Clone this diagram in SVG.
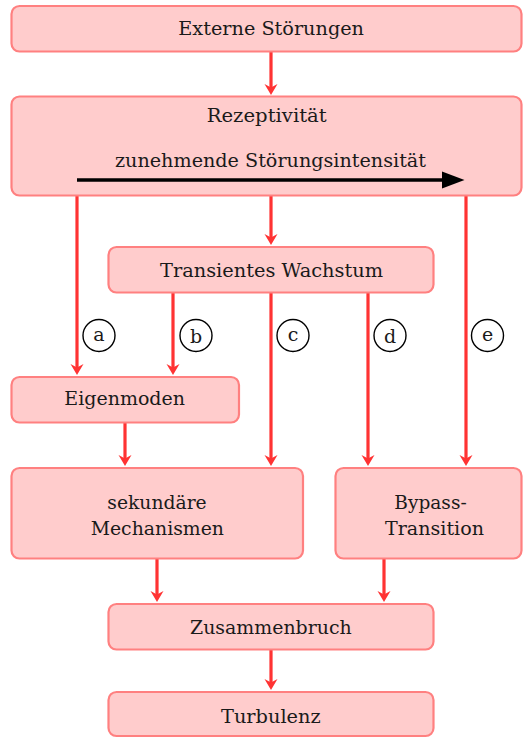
<svg xmlns="http://www.w3.org/2000/svg" width="523" height="738" viewBox="0 0 523 738">
<defs>
<style>
.box{fill:#ffcccc;stroke:#ff8080;stroke-width:2.2}
.t{font-family:'DejaVu Serif',serif;font-size:19px;fill:#1a1a1a}
.conn{stroke:#ff3333;stroke-width:3.2;fill:none}
.lbl{fill:none;stroke:#000;stroke-width:1.4}
</style>
<marker id="ah" markerUnits="userSpaceOnUse" markerWidth="20" markerHeight="20" viewBox="-10 -10 20 20" refX="0" refY="0" orient="auto" overflow="visible">
<path d="M5,0 L-6,-6.5 L-2.5,0 L-6,6.5 Z" fill="#ff3333"/>
</marker>
</defs>
<rect width="523" height="738" fill="#fff"/>
<g id="connectors">
<line class="conn" x1="271" y1="52" x2="271" y2="90" marker-end="url(#ah)"/>
<line class="conn" x1="271" y1="196" x2="271" y2="240" marker-end="url(#ah)"/>
<line class="conn" x1="77" y1="196" x2="77" y2="370" marker-end="url(#ah)"/>
<line class="conn" x1="173" y1="293" x2="173" y2="370" marker-end="url(#ah)"/>
<line class="conn" x1="271" y1="293" x2="271" y2="461" marker-end="url(#ah)"/>
<line class="conn" x1="368" y1="293" x2="368" y2="461" marker-end="url(#ah)"/>
<line class="conn" x1="466" y1="196" x2="466" y2="461" marker-end="url(#ah)"/>
<line class="conn" x1="125" y1="423" x2="125" y2="461" marker-end="url(#ah)"/>
<line class="conn" x1="157" y1="559" x2="157" y2="597" marker-end="url(#ah)"/>
<line class="conn" x1="384" y1="559" x2="384" y2="597" marker-end="url(#ah)"/>
<line class="conn" x1="271" y1="650" x2="271" y2="685" marker-end="url(#ah)"/>
</g>
<g id="externe">
<rect class="box" x="11.5" y="6" width="510" height="45.5" rx="8"/>
<text class="t" x="178.3" y="35" textLength="185.7" lengthAdjust="spacingAndGlyphs">Externe Störungen</text>
</g>
<g id="rezeptivitaet">
<rect class="box" x="11.5" y="96.5" width="510" height="99" rx="8"/>
<text class="t" x="206.7" y="122" textLength="120" lengthAdjust="spacingAndGlyphs">Rezeptivität</text>
<text class="t" x="115" y="167" textLength="311" lengthAdjust="spacingAndGlyphs">zunehmende Störungsintensität</text>
<line x1="77" y1="180" x2="444" y2="180" stroke="#000" stroke-width="3.6"/>
<polygon points="442,171.5 464.5,180 442,188.5" fill="#000"/>
</g>
<g id="transientes">
<rect class="box" x="108.5" y="247" width="325" height="45.5" rx="8"/>
<text class="t" x="160" y="277" textLength="223" lengthAdjust="spacingAndGlyphs">Transientes Wachstum</text>
</g>
<g id="label-a"><circle class="lbl" cx="99" cy="335.5" r="16"/><text class="t" x="99" y="340.5" text-anchor="middle">a</text></g>
<g id="label-b"><circle class="lbl" cx="196" cy="335.5" r="16"/><text class="t" x="196" y="342.5" text-anchor="middle">b</text></g>
<g id="label-c"><circle class="lbl" cx="293" cy="335.5" r="16"/><text class="t" x="293" y="340.5" text-anchor="middle">c</text></g>
<g id="label-d"><circle class="lbl" cx="390" cy="335.5" r="16"/><text class="t" x="390" y="342.5" text-anchor="middle">d</text></g>
<g id="label-e"><circle class="lbl" cx="487.5" cy="335.5" r="16"/><text class="t" x="487.5" y="340.5" text-anchor="middle">e</text></g>
<g id="eigenmoden">
<rect class="box" x="11.5" y="377" width="227.5" height="45.5" rx="8"/>
<text class="t" x="64.3" y="405" textLength="120.7" lengthAdjust="spacingAndGlyphs">Eigenmoden</text>
</g>
<g id="sekundaere">
<rect class="box" x="11.5" y="468" width="291.5" height="90.5" rx="8"/>
<text class="t" x="107.3" y="508.5" textLength="99.4" lengthAdjust="spacingAndGlyphs">sekundäre</text>
<text class="t" x="90.7" y="535" textLength="133.3" lengthAdjust="spacingAndGlyphs">Mechanismen</text>
</g>
<g id="bypass">
<rect class="box" x="335.5" y="468" width="186" height="90.5" rx="8"/>
<text class="t" x="394.3" y="509" textLength="72.4" lengthAdjust="spacingAndGlyphs">Bypass-</text>
<text class="t" x="385" y="535" textLength="99" lengthAdjust="spacingAndGlyphs">Transition</text>
</g>
<g id="zusammenbruch">
<rect class="box" x="108.5" y="604" width="325" height="45.5" rx="8"/>
<text class="t" x="190" y="634.3" textLength="161.7" lengthAdjust="spacingAndGlyphs">Zusammenbruch</text>
</g>
<g id="turbulenz">
<rect class="box" x="108.5" y="692" width="325" height="44" rx="8"/>
<text class="t" x="221" y="722.7" textLength="99.7" lengthAdjust="spacingAndGlyphs">Turbulenz</text>
</g>
</svg>
